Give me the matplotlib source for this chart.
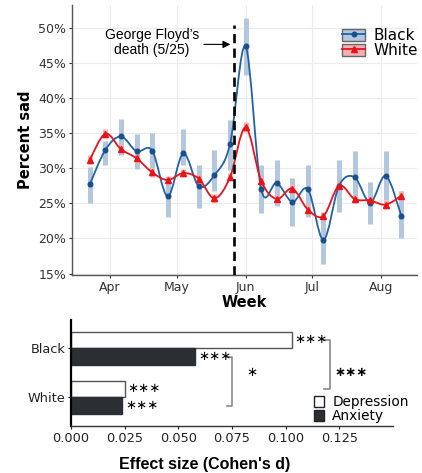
import numpy as np
import pandas as pd
import matplotlib
matplotlib.use("Agg")
import matplotlib.pyplot as plt
import matplotlib.dates as mdates
from matplotlib.path import Path
from matplotlib.patches import PathPatch, Patch
from matplotlib.lines import Line2D
from matplotlib.ticker import FormatStrFormatter

# weekly sadness (% of posts), Black vs White
weeks = ["2020-03-23", "2020-03-30", "2020-04-06", "2020-04-13", "2020-04-20",
         "2020-04-27", "2020-05-04", "2020-05-11", "2020-05-18", "2020-05-25",
         "2020-06-01", "2020-06-08", "2020-06-15", "2020-06-22", "2020-06-29",
         "2020-07-06", "2020-07-13", "2020-07-20", "2020-07-27", "2020-08-03",
         "2020-08-10"]
black = [27.7, 32.6, 34.5, 32.4, 32.5, 26.0, 32.1, 27.4, 29.0, 33.4, 47.3,
         27.0, 27.9, 25.2, 27.0, 19.8, 27.5, 28.7, 25.1, 28.9, 23.2]
black_lo = [25.1, 30.4, 31.9, 29.9, 30.0, 23.0, 30.5, 24.3, 26.8, 29.8, 43.3,
            23.6, 24.6, 21.8, 23.0, 16.4, 23.8, 25.1, 22.0, 25.4, 20.1]
black_hi = [30.1, 33.9, 37.0, 34.9, 35.0, 28.0, 35.6, 30.5, 32.6, 36.9, 51.4,
            30.5, 31.2, 28.6, 30.5, 23.5, 31.2, 32.4, 28.0, 32.5, 26.8]
white = [31.2, 34.9, 32.7, 31.4, 29.4, 28.3, 29.3, 28.5, 25.7, 28.7, 35.8,
         28.2, 25.6, 27.1, 24.1, 23.2, 27.5, 25.6, 25.4, 24.8, 26.1]
white_lo = [30.6, 34.3, 32.1, 30.8, 28.8, 27.7, 28.7, 27.9, 25.1, 28.1, 35.1,
            27.6, 25.0, 26.5, 23.5, 22.6, 26.9, 25.0, 24.8, 24.2, 25.5]
white_hi = [31.8, 35.5, 33.3, 32.0, 30.0, 28.9, 29.9, 29.1, 26.3, 29.3, 36.5,
            28.8, 26.2, 27.7, 24.7, 23.8, 28.1, 26.2, 26.0, 25.4, 26.7]
floyd_date = "2020-05-27"

# effect sizes
groups = ["Black", "White"]
depression = [0.103, 0.025]
anxiety = [0.058, 0.024]

BLUE = "#2262a6"
BLUE_DOT = "#1a4f8c"
BLUE_CI = "#b3c7de"
RED = "#e8141c"
RED_CI = "#f5b0b3"


def smooth_path(x, y):
    """catmull-rom -> bezier, so the curve goes through every point"""
    n = len(x)
    verts = [(x[0], y[0])]
    codes = [Path.MOVETO]
    for i in range(n - 1):
        xa, ya = (x[i - 1], y[i - 1]) if i > 0 else (x[i], y[i])
        xb, yb = (x[i + 2], y[i + 2]) if i + 2 < n else (x[i + 1], y[i + 1])
        c1 = (x[i] + (x[i + 1] - xa) / 6, y[i] + (y[i + 1] - ya) / 6)
        c2 = (x[i + 1] - (xb - x[i]) / 6, y[i + 1] - (yb - y[i]) / 6)
        verts += [c1, c2, (x[i + 1], y[i + 1])]
        codes += [Path.CURVE4] * 3
    return Path(verts, codes)


plt.rcParams["font.family"] = "DejaVu Sans"
fig = plt.figure(figsize=(4.22, 4.73), dpi=100)

# ---------------- top : time series ----------------
ax1 = fig.add_axes([0.1706, 0.4186, 0.8174, 0.5708])
xd = mdates.date2num(pd.to_datetime(weeks))

ax1.vlines(xd, black_lo, black_hi, color=BLUE_CI, lw=3.6, zorder=1)
ax1.vlines(xd, white_lo, white_hi, color=RED_CI, lw=3.6, zorder=1)
ax1.add_patch(PathPatch(smooth_path(xd, black), fill=False, ec=BLUE, lw=1.3, zorder=3))
ax1.add_patch(PathPatch(smooth_path(xd, white), fill=False, ec=RED, lw=1.3, zorder=3))
ax1.plot(xd, black, "o", ms=3.3, color=BLUE_DOT, zorder=4)
ax1.plot(xd, white, "^", ms=4, color=RED, zorder=4)

fd = mdates.date2num(pd.Timestamp(floyd_date))
ax1.vlines(fd, 14.8, 50.3, color="black", lw=1.9, linestyles=(0, (3.5, 2)), zorder=5)
ax1.text(mdates.date2num(pd.Timestamp("2020-04-20")), 47.9, "George Floyd\u2019s\ndeath (5/25)",
         ha="center", va="center", fontsize=10, family="Liberation Sans", linespacing=1.1)
ax1.annotate("", xy=(fd - 0.6, 47.6), xytext=(mdates.date2num(pd.Timestamp("2020-05-12")), 47.6),
             arrowprops=dict(arrowstyle="-|>", color="black", lw=0.8, mutation_scale=11))

ax1.set_xlim(mdates.date2num(pd.Timestamp("2020-03-15")), mdates.date2num(pd.Timestamp("2020-08-17")))
ax1.set_ylim(14.8, 53.2)
ax1.xaxis.set_major_locator(mdates.MonthLocator(bymonth=[4, 5, 6, 7, 8]))
ax1.xaxis.set_major_formatter(mdates.DateFormatter("%b"))
ax1.set_yticks([15, 20, 25, 30, 35, 40, 45, 50])
ax1.set_yticklabels([f"{v}%" for v in [15, 20, 25, 30, 35, 40, 45, 50]])
ax1.grid(True, color="#ececec", lw=0.8)
ax1.set_axisbelow(True)
for s in ["top", "right"]:
    ax1.spines[s].set_visible(False)
for s in ["left", "bottom"]:
    ax1.spines[s].set_color("#555555")
    ax1.spines[s].set_linewidth(1.0)
ax1.tick_params(labelsize=9, colors="#333333", length=2.5, width=0.8, pad=1.5)
ax1.set_ylabel("Percent sad", fontsize=10.5, fontweight="bold")
ax1.yaxis.set_label_coords(-0.113, 0.5)
ax1.set_xlabel("Week", fontsize=10.5, fontweight="bold")
ax1.xaxis.set_label_coords(0.5, -0.075)

h_black = (Patch(fc=BLUE_CI, ec="#666666", lw=1),
           Line2D([], [], color=BLUE, lw=1.3, marker="o", ms=3.3, mfc=BLUE_DOT, mec=BLUE_DOT))
h_white = (Patch(fc=RED_CI, ec="#666666", lw=1),
           Line2D([], [], color=RED, lw=1.3, marker="^", ms=4))
ax1.legend([h_black, h_white], ["Black", "White"], loc="upper left",
           bbox_to_anchor=(0.782, 0.915), frameon=False, fontsize=11,
           handlelength=1.55, handleheight=0.85, labelspacing=0.0,
           handletextpad=0.55, borderpad=0, borderaxespad=0)

# ---------------- bottom : effect sizes ----------------
ax2 = fig.add_axes([0.168, 0.0994, 0.763, 0.2241])
ypos = np.array([1, 0])
bh = 0.34
ax2.barh(ypos + bh / 2, depression, height=bh, color="white", edgecolor="#555555", lw=1)
ax2.barh(ypos - bh / 2, anxiety, height=bh, color="#2b2f33", edgecolor="#2b2f33", lw=1)

star_kw = dict(va="center", ha="left", fontsize=9.5, family="DejaVu Sans")
for yy, v in zip(ypos + bh / 2, depression):
    ax2.text(v + 0.0012, yy, "\u2217\u2217\u2217", **star_kw)
for yy, v in zip(ypos - bh / 2, anxiety):
    ax2.text(v + 0.0012, yy, "\u2217\u2217\u2217", **star_kw)

# comparison brackets
br = "#8a8a8a"
ax2.plot([0.0728, 0.075, 0.075, 0.0728], [1 - bh / 2, 1 - bh / 2, -bh / 2, -bh / 2], color=br, lw=1.2)
ax2.text(0.0845, 0.5, "\u2217", **{**star_kw, "ha": "center"})
ax2.plot([0.118, 0.1205, 0.1205, 0.118], [1 + bh / 2, 1 + bh / 2, bh / 2, bh / 2], color=br, lw=1.2)
ax2.text(0.1228, 0.5, "\u2217\u2217\u2217", fontweight="bold", **star_kw)

ax2.set_xlim(0, 0.15)
ax2.set_ylim(-0.585, 1.578)
ax2.set_xticks([0, 0.025, 0.05, 0.075, 0.1, 0.125])
ax2.xaxis.set_major_formatter(FormatStrFormatter("%.3f"))
ax2.set_yticks(ypos)
ax2.set_yticklabels(groups)
for s in ["top", "right"]:
    ax2.spines[s].set_visible(False)
ax2.spines["left"].set_color("black")
ax2.spines["left"].set_linewidth(1.6)
ax2.spines["bottom"].set_color("#333333")
ax2.spines["bottom"].set_linewidth(1.0)
ax2.tick_params(labelsize=9.3, colors="#222222", length=2.5, width=0.8, pad=1.5)
ax2.set_xlabel("Effect size (Cohen's d)", fontsize=11.5, fontweight="bold", family="Liberation Sans")
ax2.xaxis.set_label_coords(0.416, -0.29)

ax2.legend([Patch(fc="white", ec="#222222", lw=1), Patch(fc="#2b2f33", ec="#222222", lw=1)],
           ["Depression", "Anxiety"], loc="upper left", bbox_to_anchor=(0.755, 0.29),
           frameon=False, fontsize=9.8, handlelength=0.75, handleheight=0.95,
           labelspacing=0.0, handletextpad=0.6, borderpad=0, borderaxespad=0)

fig.savefig("out.png", dpi=100)
